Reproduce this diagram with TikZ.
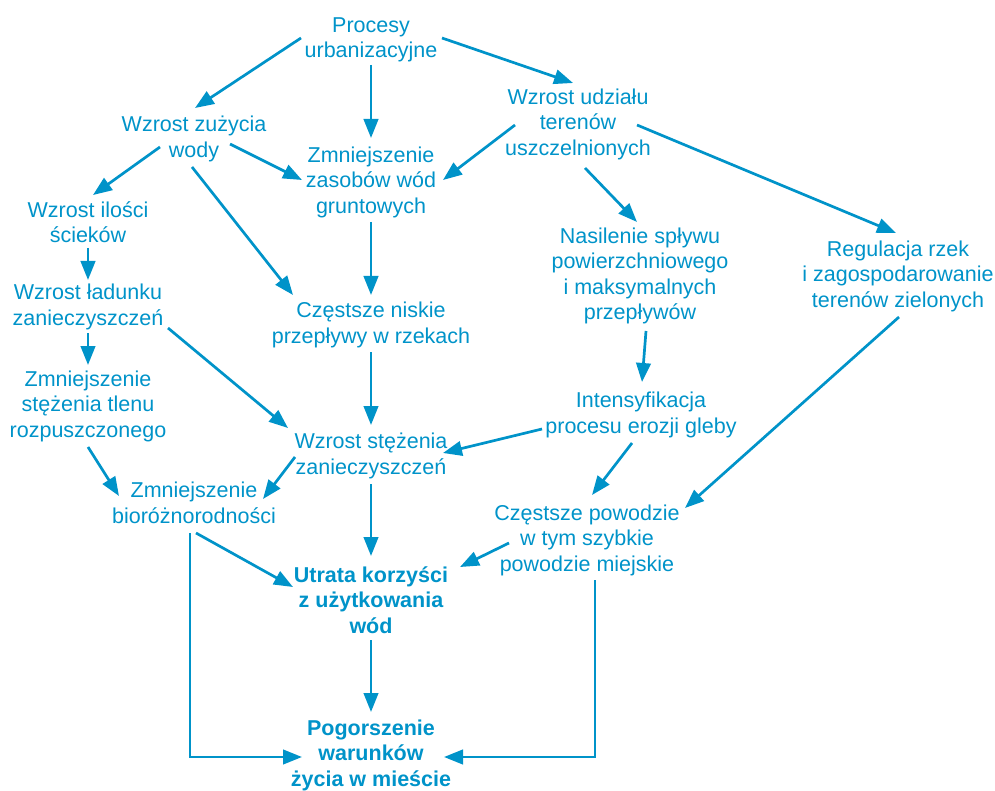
\documentclass[tikz,border=0pt]{standalone}
\usepackage{fontspec}
\setmainfont{Liberation Sans}
\usetikzlibrary{arrows.meta}
\definecolor{flowblue}{RGB}{0,147,201}
\tikzset{
  lbl/.style={inner sep=0pt, align=center, text=flowblue,
    font=\fontsize{21.5}{25.5}\selectfont},
  lblb/.style={lbl, font=\fontsize{21.5}{25.5}\selectfont\bfseries},
  arr/.style={draw=flowblue, line width=2.7pt,
    -{Triangle[length=19pt,width=14.5pt]}}
}
\begin{document}
\begin{tikzpicture}[x=1pt,y=-1pt]
\useasboundingbox (0,0) rectangle (995,791);

% nodes
\node[lbl]  (proc) at (371,40)  {Procesy\\urbanizacyjne};
\node[lbl]  (zuz)  at (194,139) {Wzrost zużycia\\wody};
\node[lbl]  (zas)  at (371,182) {Zmniejszenie\\zasobów wód\\gruntowych};
\node[lbl]  (udz)  at (578,124) {Wzrost udziału\\terenów\\uszczelnionych};
\node[lbl]  (scie) at (88,222)  {Wzrost ilości\\ścieków};
\node[lbl]  (lad)  at (88,307)  {Wzrost ładunku\\zanieczyszczeń};
\node[lbl]  (tlen) at (88,406)  {Zmniejszenie\\stężenia tlenu\\rozpuszczonego};
\node[lbl]  (nisk) at (371,325) {Częstsze niskie\\przepływy w rzekach};
\node[lbl]  (stez) at (371,456) {Wzrost stężenia\\zanieczyszczeń};
\node[lbl]  (bio)  at (194,503) {Zmniejszenie\\bioróżnorodności};
\node[lbl]  (nas)  at (640,276) {Nasilenie spływu\\powierzchniowego\\i maksymalnych\\przepływów};
\node[lbl]  (reg)  at (898,276) {Regulacja rzek\\i zagospodarowanie\\terenów zielonych};
\node[lbl]  (int)  at (641,415) {Intensyfikacja\\procesu erozji gleby};
\node[lbl]  (pow)  at (587,540) {Częstsze powodzie\\w tym szybkie\\powodzie miejskie};
\node[lblb] (utr)  at (371,600) {Utrata korzyści\\z użytkowania\\wód};
\node[lblb] (pog)  at (371,755) {Pogorszenie\\warunków\\życia w mieście};

% connectors
\draw[arr] ([shift={(-70,-2)}]proc.center) -- ([shift={(1,-31)}]zuz.center);
\draw[arr] ([shift={(0,25)}]proc.center)   -- ([shift={(0,-44)}]zas.center);
\draw[arr] ([shift={(71,-2)}]proc.center)  -- ([shift={(-5,-41)}]udz.center);
\draw[arr] ([shift={(36,5)}]zuz.center)    -- ([shift={(-69,-2)}]zas.center);
\draw[arr] ([shift={(-63,1)}]udz.center)   -- ([shift={(72,-2)}]zas.center);
\draw[arr] ([shift={(-34,8)}]zuz.center)   -- ([shift={(5,-27)}]scie.center);
\draw[arr] ([shift={(-2,28)}]zuz.center)   -- ([shift={(-78,-30)}]nisk.center);
\draw[arr] ([shift={(0,40)}]zas.center)    -- ([shift={(0,-30)}]nisk.center);
\draw[arr] ([shift={(7,44)}]udz.center)    -- ([shift={(-3,-54)}]nas.center);
\draw[arr] ([shift={(59,1)}]udz.center)    -- ([shift={(-2,-43)}]reg.center);
\draw[arr] ([shift={(0,26)}]scie.center)   -- ([shift={(0,-27)}]lad.center);
\draw[arr] ([shift={(0,26)}]lad.center)    -- ([shift={(0,-41)}]tlen.center);
\draw[arr] ([shift={(80,21)}]lad.center)   -- ([shift={(-83,-28)}]stez.center);
\draw[arr] ([shift={(0,27)}]nisk.center)   -- ([shift={(0,-31)}]stez.center);
\draw[arr] ([shift={(6,55)}]nas.center)    -- ([shift={(1,-33)}]int.center);
\draw[arr] ([shift={(-99,14)}]int.center)  -- ([shift={(72,-3)}]stez.center);
\draw[arr] ([shift={(-9,28)}]int.center)   -- ([shift={(5,-45)}]pow.center);
\draw[arr] ([shift={(1,41)}]reg.center)    -- ([shift={(98,-32)}]pow.center);
\draw[arr] ([shift={(0,41)}]tlen.center)   -- ([shift={(-75,-7)}]bio.center);
\draw[arr] ([shift={(-76,1)}]stez.center)  -- ([shift={(69,-4)}]bio.center);
\draw[arr] ([shift={(0,28)}]stez.center)   -- ([shift={(0,-44)}]utr.center);
\draw[arr] ([shift={(2,30)}]bio.center)    -- ([shift={(-78,-13)}]utr.center);
\draw[arr] ([shift={(-78,3)}]pow.center)   -- ([shift={(89,-33)}]utr.center);
\draw[arr] ([shift={(0,40)}]utr.center)    -- ([shift={(0,-43)}]pog.center);
\draw[arr] ([shift={(-4,30)}]bio.center)   |- ([shift={(-69,2)}]pog.center);
\draw[arr] ([shift={(8,40)}]pow.center)    |- ([shift={(73,2)}]pog.center);
\end{tikzpicture}
\end{document}
